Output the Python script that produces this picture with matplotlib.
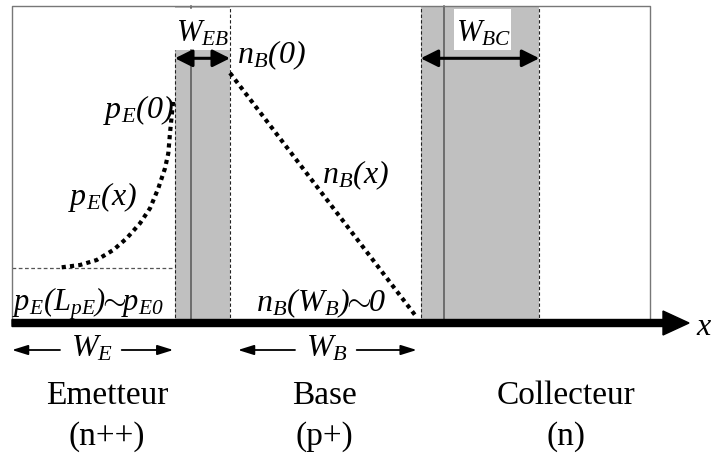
import matplotlib
matplotlib.use("Agg")
import matplotlib.pyplot as plt
import numpy as np

plt.rcParams.update({
    "font.family": "Liberation Serif",
    "mathtext.fontset": "custom",
    "mathtext.rm": "Liberation Serif",
    "mathtext.it": "Liberation Serif:italic",
    "mathtext.sf": "Liberation Serif:italic",
})

# geometry of the device (x from the emitter contact, y = concentration above the axis)
box_right = 638
box_top = 317.5
eb_zone = (163, 218)
eb_junction = 178.7
bc_zone = (408.7, 527.3)
bc_junction = 432.3
pE0_level = 55.3

# minority carrier profiles
pE_x = [49.7, 68, 84.7, 101.3, 114.7, 128, 138, 146.3, 153, 156.3, 158, 161.3]
pE_y = [55.7, 58, 63, 73, 84.7, 99.7, 114.7, 134.7, 154.7, 169.7, 190, 223]
nB_x = [218, 403]
nB_y = [250, 8]

region_names = ["Emetteur", "Base", "Collecteur"]
region_doping = ["(n++)", "(p+)", "(n)"]
region_centers = [95, 312, 554]

gray = "#c0c0c0"
dots = dict(color="black", lw=3.0, linestyle=(0, (1, 1)), dash_capstyle="butt")

fig = plt.figure(figsize=(7.12, 4.55), dpi=100)
ax = fig.add_axes([0, 0, 1, 1])
ax.set_xlim(-12, 700)
ax.set_ylim(-132, 323)
ax.axis("off")

# depletion zones
for z in (eb_zone, bc_zone):
    ax.fill_between(z, 0, box_top, color=gray, lw=0, zorder=1)
# white patches behind the W_EB / W_BC labels
ax.fill_between([eb_zone[0], eb_zone[1]], 273, 315, color="white", lw=0, zorder=2)
ax.fill_between([442, 499], 273, 314, color="white", lw=0, zorder=2)

# metallurgical junctions
ax.plot([eb_junction, eb_junction], [0, 273], color="#555555", lw=1.1, zorder=3)
ax.plot([eb_junction, eb_junction], [315, box_top], color="#555555", lw=1.1, zorder=3)
ax.plot([bc_junction, bc_junction], [0, box_top], color="#555555", lw=1.1, zorder=3)

# depletion edges
dash = dict(color="#222222", lw=0.8, linestyle=(0, (3, 2)), zorder=3)
ax.plot([eb_zone[0]] * 2, [0, 273], **dash)
ax.plot([eb_zone[1]] * 2, [0, box_top], **dash)
ax.plot([bc_zone[0]] * 2, [0, box_top], **dash)
ax.plot([bc_zone[1]] * 2, [0, box_top], **dash)
ax.plot([0, eb_zone[0]], [pE0_level, pE0_level], color="#555555", lw=0.9,
        linestyle=(0, (3, 2)), zorder=3)

# outer frame
ax.plot([0, 0, box_right, box_right], [0, box_top, box_top, 0], color="#777777",
        lw=1.0, zorder=3)

# carrier profiles
ax.plot(pE_x, pE_y, zorder=4, **dots)
ax.plot(nB_x, nB_y, zorder=4, **dots)

# x axis
ax.arrow(0, 0, 677, 0, width=7, head_width=24, head_length=26,
         length_includes_head=True, color="black", zorder=5)

# depletion widths
for z in (eb_zone, bc_zone):
    ax.annotate("", xy=(z[0], 264.7), xytext=(z[1], 264.7),
                arrowprops=dict(arrowstyle="<|-|>,head_length=0.7,head_width=0.35",
                                color="black", lw=2.2, shrinkA=0, shrinkB=0,
                                mutation_scale=15), zorder=6)

# neutral widths
thin = dict(arrowstyle="-|>,head_length=0.8,head_width=0.25", color="black",
            lw=1.3, shrinkA=0, shrinkB=0, mutation_scale=12)
for a, b in ((48, 0), (109.7, 161.3), (283, 226), (344.7, 404.7)):
    ax.annotate("", xy=(b, -27), xytext=(a, -27), arrowprops=thin)

fs = 23
ax.text(164, 281, r"$\mathsf{W_{EB}}$", fontsize=22, ha="left", va="baseline", zorder=7)
ax.text(444, 281, r"$\mathsf{W_{BC}}$", fontsize=22, ha="left", va="baseline", zorder=7)
ax.text(225, 260, r"$\mathsf{n_B(0)}$", fontsize=fs, ha="left", va="baseline")
ax.text(91, 205, r"$\mathsf{p_E(0)}$", fontsize=fs, ha="left", va="baseline")
ax.text(56, 118, r"$\mathsf{p_E(x)}$", fontsize=fs, ha="left", va="baseline")
ax.text(310, 140, r"$\mathsf{n_B(x)}$", fontsize=fs, ha="left", va="baseline")
ax.text(0, 12, r"$\mathsf{p_E(L_{pE})\!\!\sim\!\! p_{E0}}$", fontsize=22, ha="left",
        va="baseline", zorder=7)
ax.text(244, 12, r"$\mathsf{n_B(W_B)\!\!\sim\!\! 0}$", fontsize=fs, ha="left",
        va="baseline", zorder=7)
ax.text(80.5, -33.7, r"$\mathsf{W_E}$", fontsize=fs, ha="center", va="baseline")
ax.text(315.5, -33.7, r"$\mathsf{W_B}$", fontsize=fs, ha="center", va="baseline")
ax.text(684, -12, r"$\mathsf{x}$", fontsize=fs, ha="left", va="baseline")

for name, dop, cx in zip(region_names, region_doping, region_centers):
    ax.text(cx, -81, name, fontsize=24, ha="center", va="baseline")
    ax.text(cx, -122, dop, fontsize=24, ha="center", va="baseline")

fig.savefig("out.png", dpi=100)
